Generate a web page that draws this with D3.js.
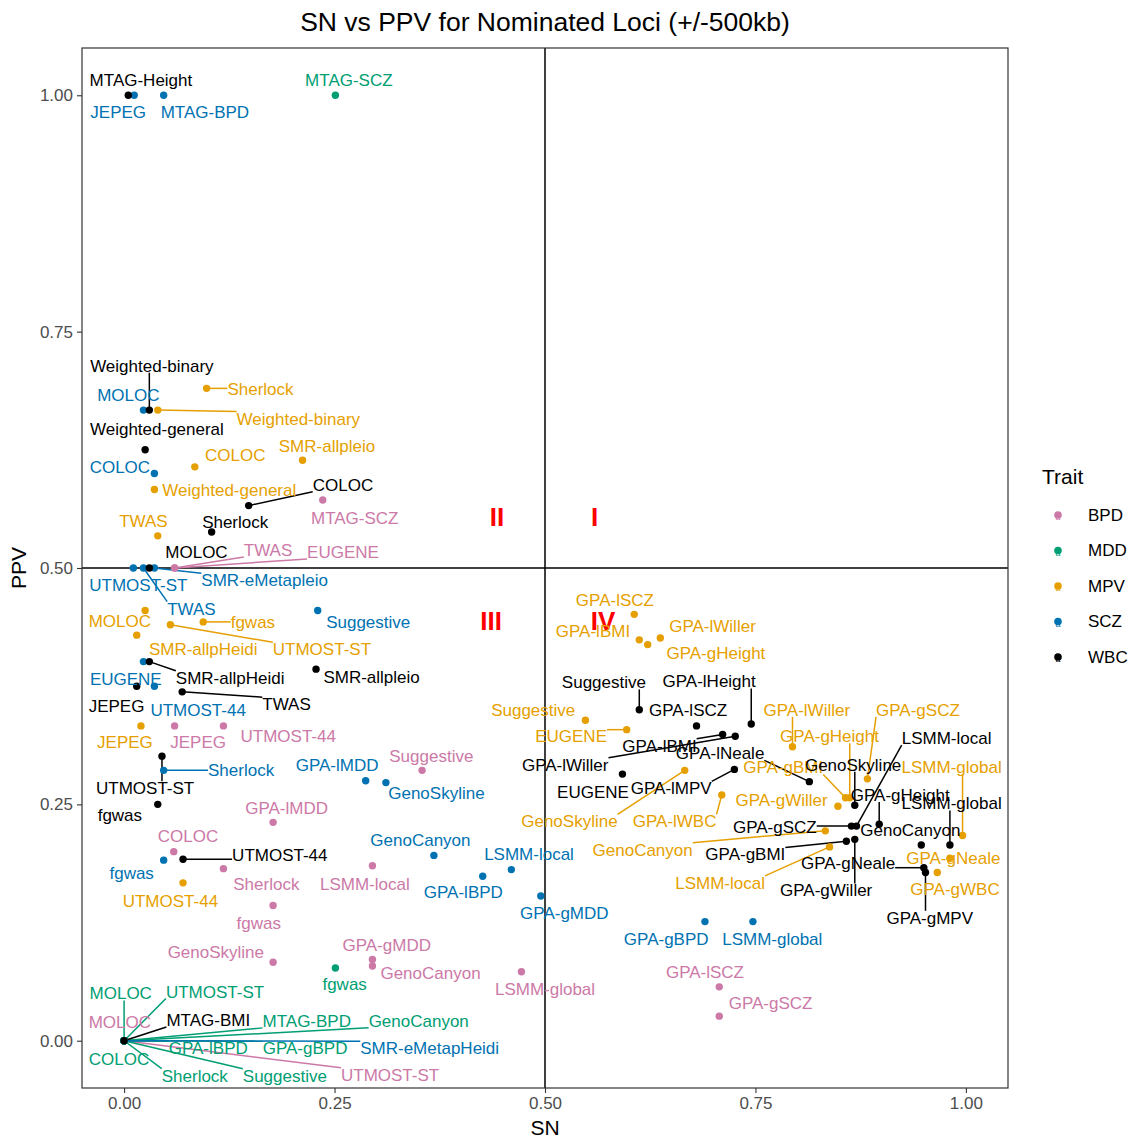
<!DOCTYPE html>
<html><head><meta charset="utf-8">
<script src="https://cdn.jsdelivr.net/npm/d3@7"></script>
<style>
body{margin:0;background:#fff;}
text{font-family:"Liberation Sans",Arial,Helvetica,sans-serif;}
</style>
</head><body>
<svg id="chart" width="1132" height="1138"></svg>
<script>
// ---------------- DATA ----------------
const traits = ["BPD", "MDD", "MPV", "SCZ", "WBC"];

// [method, SN, PPV]
const bpdPoints = [
  ["MTAG-SCZ",0.236,0.572],["TWAS",0.060,0.500],["EUGENE",0.060,0.500],["JEPEG",0.060,0.333],
  ["UTMOST-44",0.118,0.333],["Suggestive",0.354,0.286],["GPA-lMDD",0.177,0.231],["COLOC",0.059,0.200],
  ["Sherlock",0.118,0.182],["fgwas",0.177,0.143],["GenoSkyline",0.177,0.083],["LSMM-local",0.295,0.185],
  ["GPA-gMDD",0.295,0.086],["GenoCanyon",0.295,0.079],["LSMM-global",0.472,0.073],["GPA-lSCZ",0.707,0.057],
  ["GPA-gSCZ",0.707,0.026],["MOLOC",0,0],["UTMOST-ST",0,0]
];
const mddPoints = [
  ["MTAG-SCZ",0.251,1.0],["fgwas",0.251,0.077],["MOLOC",0,0],["UTMOST-ST",0,0],["MTAG-BPD",0,0],
  ["GenoCanyon",0,0],["COLOC",0,0],["GPA-lBPD",0,0],["GPA-gBPD",0,0],["Sherlock",0,0],["Suggestive",0,0]
];
const mpvPoints = [
  ["Weighted-binary",0.040,0.667],["Sherlock",0.098,0.690],["COLOC",0.084,0.607],["SMR-allpleio",0.212,0.614],
  ["Weighted-general",0.036,0.583],["TWAS",0.040,0.534],["MOLOC",0.025,0.455],["SMR-allpHeidi",0.015,0.429],
  ["UTMOST-ST",0.055,0.440],["fgwas",0.094,0.443],["JEPEG",0.020,0.333],["UTMOST-44",0.070,0.167],
  ["GPA-lSCZ",0.606,0.451],["GPA-lBMI",0.612,0.424],["GPA-gHeight",0.622,0.419],["GPA-lWiller",0.637,0.426],
  ["Suggestive",0.548,0.339],["EUGENE",0.597,0.329],["GenoSkyline",0.666,0.286],["GPA-lWBC",0.710,0.260],
  ["GPA-lWiller",0.794,0.311],["GPA-gSCZ",0.883,0.277],["GPA-gHeight",0.862,0.257],["GPA-gBMI",0.857,0.257],
  ["GPA-gWiller",0.848,0.248],["GenoCanyon",0.833,0.222],["LSMM-local",0.838,0.205],["LSMM-global",0.996,0.217],
  ["GPA-gNeale",0.981,0.193],["GPA-gWBC",0.966,0.178]
];
const sczPoints = [
  ["JEPEG",0.012,1.0],["MTAG-BPD",0.047,1.0],["MOLOC",0.023,0.667],["COLOC",0.036,0.600],
  ["UTMOST-ST",0.011,0.500],["TWAS",0.023,0.500],["SMR-eMetapleio",0.036,0.500],["Suggestive",0.230,0.455],
  ["EUGENE",0.023,0.401],["UTMOST-44",0.036,0.375],["Sherlock",0.047,0.286],["GPA-lMDD",0.287,0.275],
  ["GenoSkyline",0.311,0.273],["fgwas",0.047,0.191],["GenoCanyon",0.368,0.196],["GPA-lBPD",0.426,0.174],
  ["LSMM-local",0.460,0.181],["GPA-gMDD",0.495,0.153],["GPA-gBPD",0.690,0.126],["LSMM-global",0.747,0.126],
  ["SMR-eMetapHeidi",0,0]
];
const wbcPoints = [
  ["MTAG-Height",0.005,1.0],["Weighted-binary",0.030,0.667],["Weighted-general",0.025,0.625],["COLOC",0.148,0.566],
  ["Sherlock",0.104,0.538],["MOLOC",0.030,0.500],["SMR-allpHeidi",0.030,0.401],["JEPEG",0.015,0.375],
  ["TWAS",0.069,0.369],["SMR-allpleio",0.228,0.393],["UTMOST-ST",0.045,0.301],["fgwas",0.040,0.250],
  ["UTMOST-44",0.070,0.192],["MTAG-BMI",0,0],["Suggestive",0.612,0.350],["GPA-lSCZ",0.680,0.333],
  ["GPA-lHeight",0.745,0.335],["GPA-lBMI",0.711,0.324],["GPA-lWiller",0.726,0.322],["EUGENE",0.592,0.282],
  ["GPA-lMPV",0.725,0.287],["GPA-lNeale",0.814,0.274],["GenoSkyline",0.868,0.249],["GPA-gHeight",0.897,0.229],
  ["GPA-gSCZ",0.864,0.227],["LSMM-local",0.870,0.227],["GPA-gBMI",0.858,0.211],["GPA-gWiller",0.868,0.213],
  ["GenoCanyon",0.947,0.207],["LSMM-global",0.981,0.207],["GPA-gNeale",0.950,0.183],["GPA-gMPV",0.952,0.178]
];

// repelled label anchors (SN, PPV units), parallel to the point arrays
const bpdLabelAt = [[0.274,0.553],[0.171,0.519],[0.260,0.517],[0.088,0.316],[0.195,0.322],[0.365,0.301],
  [0.193,0.246],[0.076,0.216],[0.169,0.166],[0.160,0.124],[0.109,0.094],[0.286,0.166],[0.312,0.101],
  [0.364,0.072],[0.500,0.055],[0.690,0.073],[0.768,0.040],[-0.005,0.020],[0.316,-0.036]];
const mddLabelAt = [[0.267,1.016],[0.262,0.060],[-0.004,0.050],[0.108,0.052],[0.217,0.021],[0.350,0.021],
  [-0.006,-0.019],[0.100,-0.008],[0.215,-0.008],[0.084,-0.037],[0.191,-0.037]];
const mpvLabelAt = [[0.207,0.658],[0.162,0.689],[0.132,0.619],[0.241,0.629],[0.125,0.582],[0.023,0.550],
  [-0.005,0.444],[0.094,0.414],[0.235,0.414],[0.153,0.443],[0.001,0.316],[0.055,0.148],
  [0.583,0.466],[0.557,0.433],[0.703,0.410],[0.699,0.439],[0.486,0.350],[0.531,0.322],[0.529,0.232],
  [0.654,0.232],[0.811,0.350],[0.943,0.350],[0.838,0.322],[0.783,0.289],[0.781,0.255],[0.616,0.202],
  [0.708,0.167],[0.983,0.289],[0.985,0.193],[0.987,0.160]];
const sczLabelAt = [[-0.007,0.982],[0.096,0.982],[0.005,0.683],[-0.005,0.607],[0.017,0.482],[0.080,0.457],
  [0.167,0.487],[0.290,0.443],[0.002,0.383],[0.088,0.350],[0.139,0.286],[0.253,0.292],[0.371,0.262],
  [0.009,0.177],[0.352,0.212],[0.403,0.157],[0.481,0.197],[0.523,0.135],[0.644,0.108],[0.770,0.108],
  [0.363,-0.008]];
const wbcLabelAt = [[0.020,1.016],[0.033,0.714],[0.039,0.647],[0.260,0.588],[0.132,0.549],[0.086,0.517],
  [0.126,0.384],[-0.009,0.354],[0.193,0.356],[0.294,0.385],[0.025,0.267],[-0.005,0.239],[0.185,0.196],
  [0.100,0.022],[0.570,0.379],[0.670,0.350],[0.695,0.380],[0.636,0.312],[0.524,0.292],[0.557,0.263],
  [0.650,0.267],[0.708,0.304],[0.866,0.292],[0.922,0.260],[0.773,0.226],[0.977,0.320],[0.738,0.197],
  [0.834,0.159],[0.934,0.223],[0.983,0.251],[0.860,0.188],[0.957,0.130]];

const xTicks = [0, 0.25, 0.5, 0.75, 1];
const yTicks = [0, 0.25, 0.5, 0.75, 1];
const quadrantNames = ["I", "II", "III", "IV"];
const quadrantAt = [[0.559,0.554],[0.443,0.554],[0.436,0.444],[0.569,0.444]];
const refLines = [0.5];

// ---------------- BUILD ----------------
const byTrait = [
  [bpdPoints, bpdLabelAt], [mddPoints, mddLabelAt], [mpvPoints, mpvLabelAt],
  [sczPoints, sczLabelAt], [wbcPoints, wbcLabelAt]
];
const rows = [];
byTrait.forEach(([pts, lab], ti) => pts.forEach((p, i) => rows.push({
  trait: traits[ti], method: p[0], sn: p[1], ppv: p[2], lsn: lab[i][0], lppv: lab[i][1]
})));

const color = d3.scaleOrdinal().domain(traits)
  .range(["#CC79A7", "#009E73", "#E69F00", "#0072B2", "#000000"]);

const svg = d3.select("#chart");
const P = {left: 82, right: 1008, top: 48, bottom: 1088};
const x = d3.scaleLinear().domain([-0.05, 1.05]).range([P.left, P.right]);
const y = d3.scaleLinear().domain([-0.05, 1.05]).range([P.bottom, P.top]);

svg.append("rect").attr("width", 1132).attr("height", 1138).attr("fill", "#fff");

// title
svg.append("text").attr("x", (P.left + P.right) / 2).attr("y", 22).attr("dy", "0.35em")
  .attr("text-anchor", "middle").attr("font-size", 26.5).attr("fill", "#000")
  .text("SN vs PPV for Nominated Loci (+/-500kb)");

// reference lines
const g = svg.append("g");
g.selectAll(".vl").data(refLines).join("line")
  .attr("x1", d => x(d)).attr("x2", d => x(d)).attr("y1", P.top).attr("y2", P.bottom)
  .attr("stroke", "#000").attr("stroke-width", 1.5);
g.selectAll(".hl").data(refLines).join("line")
  .attr("y1", d => y(d)).attr("y2", d => y(d)).attr("x1", P.left).attr("x2", P.right)
  .attr("stroke", "#000").attr("stroke-width", 1.5);

// quadrant labels
g.selectAll(".quad").data(quadrantNames).join("text")
  .attr("x", (d, i) => x(quadrantAt[i][0])).attr("y", (d, i) => y(quadrantAt[i][1]))
  .attr("dy", "0.35em").attr("text-anchor", "middle").attr("font-size", 26)
  .attr("font-weight", "bold").attr("fill", "#FF0000").text(d => d);

const segG = svg.append("g");
const ptG = svg.append("g");
const txtG = svg.append("g");

// labels
const FS = 17;
const labels = txtG.selectAll("text").data(rows).join("text")
  .attr("x", d => x(d.lsn)).attr("y", d => y(d.lppv)).attr("dy", "0.35em")
  .attr("text-anchor", "middle").attr("font-size", FS)
  .attr("fill", d => color(d.trait)).text(d => d.method);

// segments (point -> nearest point of label box)
const segs = [];
labels.each(function(d) {
  const w = this.getComputedTextLength();
  const cx = x(d.lsn), cy = y(d.lppv), hh = 7;
  const px = x(d.sn), py = y(d.ppv);
  const qx = Math.max(cx - w / 2, Math.min(px, cx + w / 2));
  const qy = Math.max(cy - hh, Math.min(py, cy + hh));
  const dist = Math.hypot(qx - px, qy - py);
  if (dist > 19.5) segs.push({px, py, qx, qy, trait: d.trait});
});
segG.selectAll("line").data(segs).join("line")
  .attr("x1", d => d.px).attr("y1", d => d.py).attr("x2", d => d.qx).attr("y2", d => d.qy)
  .attr("stroke", d => color(d.trait)).attr("stroke-width", 1.5);

// points
ptG.selectAll("circle").data(rows).join("circle")
  .attr("cx", d => x(d.sn)).attr("cy", d => y(d.ppv)).attr("r", 3.7)
  .attr("fill", d => color(d.trait));

// panel border
svg.append("rect").attr("x", P.left).attr("y", P.top)
  .attr("width", P.right - P.left).attr("height", P.bottom - P.top)
  .attr("fill", "none").attr("stroke", "#333").attr("stroke-width", 1.2);

// axes
const fmt = d3.format(".2f");
const xAxis = svg.append("g").attr("transform", `translate(0,${P.bottom})`)
  .call(d3.axisBottom(x).tickValues(xTicks).tickFormat(fmt).tickSize(5).tickPadding(4));
const yAxis = svg.append("g").attr("transform", `translate(${P.left},0)`)
  .call(d3.axisLeft(y).tickValues(yTicks).tickFormat(fmt).tickSize(5).tickPadding(4));
[xAxis, yAxis].forEach(a => {
  a.select(".domain").remove();
  a.selectAll(".tick line").attr("stroke", "#333").attr("stroke-width", 1.1);
  a.selectAll(".tick text").attr("fill", "#4D4D4D").attr("font-size", 17)
    .attr("font-family", "Liberation Sans, Arial, sans-serif");
});

svg.append("text").attr("x", (P.left + P.right) / 2).attr("y", 1128).attr("dy", "0.35em")
  .attr("text-anchor", "middle").attr("font-size", 21).text("SN");
svg.append("text").attr("transform", `translate(19,${(P.top + P.bottom) / 2}) rotate(-90)`)
  .attr("dy", "0.35em").attr("text-anchor", "middle").attr("font-size", 21).text("PPV");

// legend
const lg = svg.append("g");
lg.append("text").attr("x", 1042).attr("y", 477).attr("dy", "0.35em").attr("font-size", 21).text("Trait");
const ly = d3.scalePoint().domain(traits).range([515, 657]);
const keys = lg.selectAll(".key").data(traits).join("g").attr("class", "key")
  .attr("transform", d => `translate(1058,${ly(d)})`);
keys.append("circle").attr("r", 3.8).attr("fill", d => color(d));
keys.append("text").attr("y", 2).attr("dy", "0.35em").attr("text-anchor", "middle")
  .attr("font-size", 9).attr("fill", d => color(d)).text("a");
keys.append("text").attr("x", 30).attr("dy", "0.35em").attr("font-size", 17).text(d => d);
</script>
</body></html>
